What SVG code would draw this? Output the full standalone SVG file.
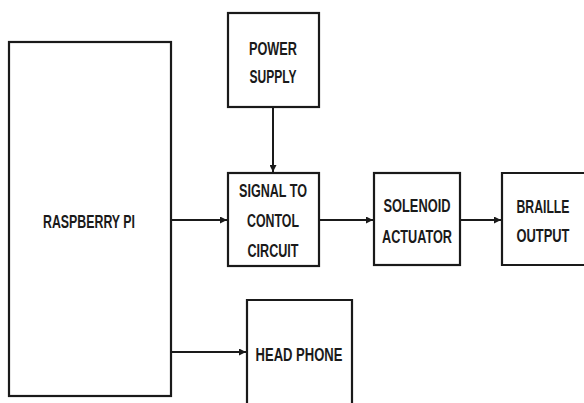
<svg xmlns="http://www.w3.org/2000/svg" width="584" height="403" viewBox="0 0 584 403">
<style>
.box{fill:#fff;stroke:#1a1a1a;stroke-width:2.2}
.lbl{font-family:"Liberation Sans",Arial,sans-serif;font-weight:bold;font-size:18px;fill:#1a1a1a;text-anchor:middle}
.conn{stroke:#1a1a1a;stroke-width:2;fill:none;marker-end:url(#ah)}
</style>
<defs>
<marker id="ah" viewBox="0 0 10 10" refX="10" refY="5" markerWidth="3.5" markerHeight="3.5" orient="auto" markerUnits="strokeWidth">
<path d="M0,0 L10,5 L0,10 Z" fill="#1a1a1a"/>
</marker>
</defs>
<rect width="584" height="403" fill="#fff"/>
<g id="connectors">
<line class="conn" x1="273" y1="107" x2="273" y2="172"/>
<line class="conn" x1="171" y1="220" x2="227" y2="220"/>
<line class="conn" x1="319" y1="220" x2="373" y2="220"/>
<line class="conn" x1="460" y1="220" x2="501" y2="220"/>
<line class="conn" x1="171" y1="352" x2="246" y2="352"/>
</g>
<g id="raspberry-pi">
<rect class="box" x="9" y="42" width="162" height="354"/>
<text class="lbl" x="89" y="228" textLength="92" lengthAdjust="spacingAndGlyphs">RASPBERRY PI</text>
</g>
<g id="power-supply">
<rect class="box" x="228" y="13" width="91" height="94"/>
<text class="lbl" x="273" y="55" textLength="48" lengthAdjust="spacingAndGlyphs">POWER</text>
<text class="lbl" x="273" y="83" textLength="47" lengthAdjust="spacingAndGlyphs">SUPPLY</text>
</g>
<g id="signal-control">
<rect class="box" x="228" y="173" width="91" height="93"/>
<text class="lbl" x="273" y="197" textLength="68" lengthAdjust="spacingAndGlyphs">SIGNAL TO</text>
<text class="lbl" x="273" y="227" textLength="52" lengthAdjust="spacingAndGlyphs">CONTOL</text>
<text class="lbl" x="273" y="257" textLength="51" lengthAdjust="spacingAndGlyphs">CIRCUIT</text>
</g>
<g id="solenoid-actuator">
<rect class="box" x="374" y="173" width="86" height="92"/>
<text class="lbl" x="417" y="212" textLength="67" lengthAdjust="spacingAndGlyphs">SOLENOID</text>
<text class="lbl" x="417" y="243" textLength="70" lengthAdjust="spacingAndGlyphs">ACTUATOR</text>
</g>
<g id="braille-output">
<path class="box" d="M584,173 H502 V265 H584"/>
<text class="lbl" x="543" y="213" textLength="53" lengthAdjust="spacingAndGlyphs">BRAILLE</text>
<text class="lbl" x="543" y="242" textLength="53" lengthAdjust="spacingAndGlyphs">OUTPUT</text>
</g>
<g id="head-phone">
<path class="box" d="M247,403 V300 H352 V403"/>
<text class="lbl" x="299" y="361" textLength="87" lengthAdjust="spacingAndGlyphs">HEAD PHONE</text>
</g>
</svg>
